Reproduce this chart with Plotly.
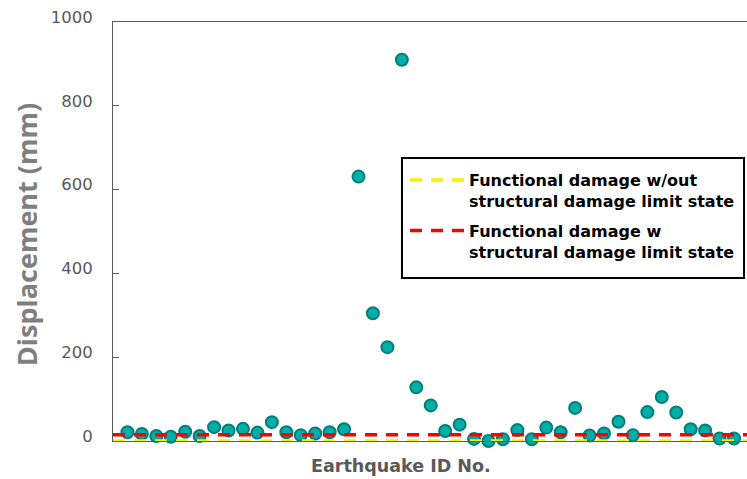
import plotly.graph_objects as go

# Earthquake record IDs and peak displacement (mm)
quake_ids = list(range(1, 45))
displacement_mm = [
    21, 17, 12, 10, 22, 12, 33, 25, 29, 20,
    45, 21, 14, 18, 21, 28, 631, 305, 224, 910,
    128, 85, 24, 39, 5, 0, 4, 26, 4, 32,
    21, 79, 13, 18, 46, 14, 69, 105, 68, 28,
    25, 6, 6, 6,
]

# Limit states (mm)
limit_no_structural = 0
limit_with_structural = 15
limit_names = [
    "Functional damage w/out<br>structural damage limit state",
    "Functional damage w<br>structural damage limit state",
]

y_ticks = [0, 200, 400, 600, 800, 1000]

X_RANGE = [0, 43.9]
Y_RANGE = [0, 1000]

fig = go.Figure()

fig.add_trace(go.Scatter(
    x=quake_ids, y=displacement_mm, mode="markers",
    marker=dict(size=12, color="#00ADA8", line=dict(color="#007F7A", width=2)),
    showlegend=False, cliponaxis=False,
))

line_x = [X_RANGE[0], quake_ids[-1]]
fig.add_trace(go.Scatter(
    x=line_x, y=[limit_no_structural] * 2, mode="lines",
    line=dict(color="#F5F500", width=3.5, dash="12px,9px"),
    name=limit_names[0], legendgroup="a", cliponaxis=False,
))
fig.add_trace(go.Scatter(
    x=line_x, y=[limit_with_structural] * 2, mode="lines",
    line=dict(color="#FF0000", width=3.5, dash="12px,9px"),
    name=limit_names[1], legendgroup="b", cliponaxis=False,
))

axis_grey = "#595959"

fig.update_layout(
    width=747, height=479,
    margin=dict(l=113, r=0, t=22, b=38),
    paper_bgcolor="white", plot_bgcolor="white",
    showlegend=True,
    legend=dict(
        x=0.4606, y=0.6635, xanchor="left", yanchor="top",
        bgcolor="rgba(0,0,0,0)", borderwidth=0,
        font=dict(family="DejaVu Sans", size=16, color="black", weight="bold"),
        itemwidth=54, valign="top", tracegroupgap=6,
    ),
    # frame around the legend
    shapes=[dict(
        type="rect", xref="paper", yref="paper",
        x0=0.4558, x1=0.9953, y0=0.389, y1=0.6754,
        line=dict(color="black", width=2), fillcolor="white", layer="above",
    )],
    xaxis=dict(
        range=X_RANGE, showgrid=False, zeroline=False,
        showline=True, linecolor=axis_grey, linewidth=1, mirror=True,
        showticklabels=False, ticks="",
    ),
    yaxis=dict(
        range=Y_RANGE, showgrid=False, zeroline=False,
        showline=True, linecolor=axis_grey, linewidth=1,
        tickvals=y_ticks, ticks="inside", ticklen=6, tickcolor=axis_grey,
        tickfont=dict(family="DejaVu Sans", size=16.5, color=axis_grey),
        ticklabelstandoff=16, ticklabelshift=-5,
    ),
    yaxis2=dict(
        range=Y_RANGE, overlaying="y", side="right", showgrid=False,
        zeroline=False, showline=False, tickvals=y_ticks, ticks="inside",
        ticklen=5, tickcolor="#8c8c8c", showticklabels=False,
    ),
    annotations=[
        dict(
            text="Displacement (mm)", xref="paper", yref="paper",
            x=-0.136, y=0.493, xanchor="center", yanchor="middle",
            textangle=-90, showarrow=False,
            font=dict(family="Open Sans", size=27, color="#7F7F7F", weight="bold"),
        ),
        dict(
            text="Earthquake ID No.", xref="paper", yref="paper",
            x=0.454, y=-0.06, xanchor="center", yanchor="middle",
            showarrow=False,
            font=dict(family="DejaVu Sans", size=17.5, color=axis_grey, weight="bold"),
        ),
    ],
)

fig.write_html("out.html")
